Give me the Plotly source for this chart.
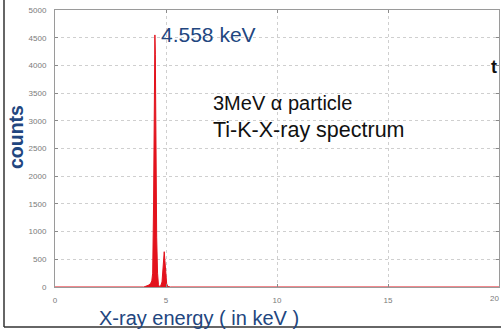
import plotly.graph_objects as go

# Data
energy_kev = [0, 4.00, 4.20, 4.30, 4.36, 4.40, 4.44, 4.47, 4.50, 4.52, 4.55, 4.58, 4.62,
              4.66, 4.70, 4.76, 4.82, 4.86, 4.90, 4.92, 4.95, 4.99, 5.03, 5.08, 5.20, 20]
counts = [0, 0, 30, 60, 110, 250, 1500, 3400, 4550, 4200, 2200, 900, 250,
          40, 10, 20, 90, 300, 580, 637, 480, 220, 60, 10, 0, 0]

x_ticks = [0, 5, 10, 15]
y_ticks = list(range(0, 5001, 500))

W, H = 501, 329
L, R, T, B = 55, 2, 10, 42
PW, PH = W - L - R, H - T - B
FONT = "Liberation Sans, Arial, sans-serif"


def px(x):
    return (x - L) / PW


def py(y):
    return (H - B - y) / PH


fig = go.Figure()
fig.add_trace(go.Scatter(
    x=energy_kev, y=counts, mode="lines", fill="tozeroy",
    line=dict(color="#e3121c", width=1), fillcolor="#e3121c",
    hoverinfo="skip", showlegend=False))

axis_common = dict(
    showline=True, linecolor="#9a9a9a", linewidth=1, mirror="ticks",
    showgrid=True, gridcolor="#cfcfcf", griddash="dot", gridwidth=1,
    ticks="inside", ticklen=3, tickcolor="#8a8a8a",
    tickfont=dict(family=FONT, size=8, color="#7a7a7a"),
    zeroline=False, fixedrange=True)

fig.update_xaxes(range=[0, 20], tickvals=x_ticks + [20], ticktext=[str(v) for v in x_ticks] + [""],
                 ticklabelstandoff=5, **axis_common)
fig.update_yaxes(range=[0, 5000], tickvals=y_ticks, ticklabelstandoff=6, **axis_common)

blue = "#22467f"
anns = [
    dict(text="4.558 keV", x=px(159), y=py(35), xanchor="left", yanchor="middle",
         font=dict(family=FONT, size=21, color=blue)),
    dict(text="3MeV \u03b1 particle", x=px(211), y=py(103), xanchor="left", yanchor="middle",
         font=dict(family=FONT, size=20, color="#111111")),
    dict(text="Ti-K-X-ray spectrum", x=px(211), y=py(130), xanchor="left", yanchor="middle",
         font=dict(family=FONT, size=21.5, color="#111111")),
    dict(text="counts", x=px(16), y=py(137), xanchor="center", yanchor="middle", textangle=-90,
         font=dict(family=FONT, size=19.5, color=blue, weight="bold")),
    dict(text="X-ray energy ( in keV )", x=px(199), y=py(317.5), xanchor="center", yanchor="middle",
         font=dict(family=FONT, size=20, color=blue)),
    dict(text="20", x=px(501), y=py(298), xanchor="right", yanchor="middle",
         font=dict(family=FONT, size=8, color="#7a7a7a")),
    dict(text="t", x=px(489), y=py(67), xanchor="left", yanchor="middle",
         font=dict(family=FONT, size=18, color="#111111", weight="bold")),
]
for a in anns:
    a.update(xref="paper", yref="paper", showarrow=False)

shapes = [
    dict(type="line", xref="paper", yref="paper", x0=px(4), x1=px(4), y0=py(0), y1=py(327),
         line=dict(color="#333333", width=1.5)),
    dict(type="line", xref="paper", yref="paper", x0=px(4), x1=px(501), y0=py(327), y1=py(327),
         line=dict(color="#333333", width=1.5)),
]

fig.update_layout(
    width=W, height=H, margin=dict(l=L, r=R, t=T, b=B),
    paper_bgcolor="white", plot_bgcolor="white",
    annotations=anns, shapes=shapes, showlegend=False)

fig.write_html("out.html")
